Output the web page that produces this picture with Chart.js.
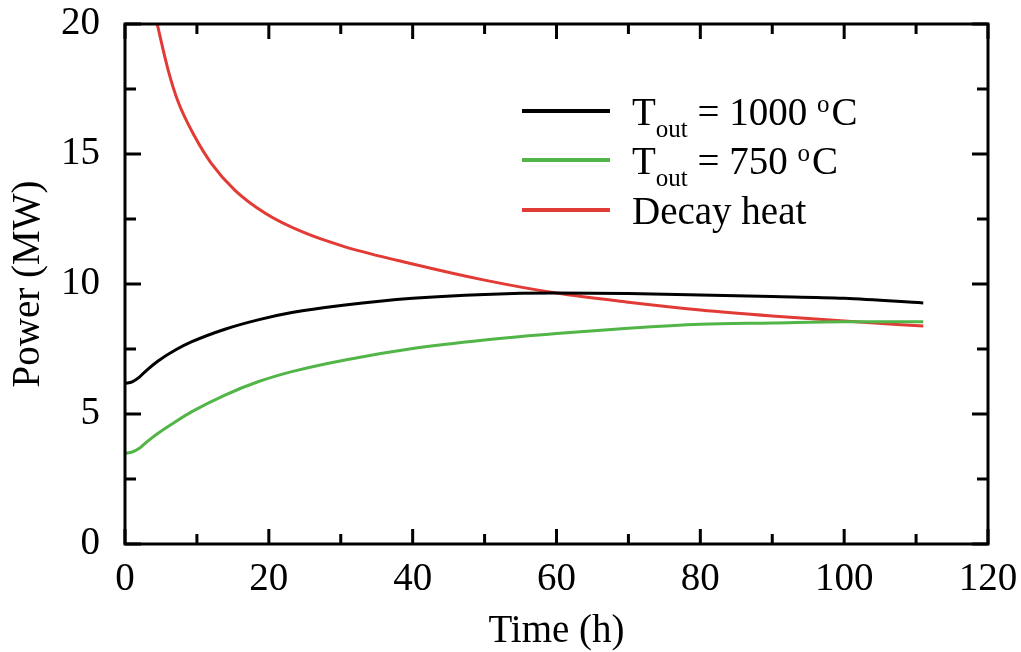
<!DOCTYPE html>
<html><head><meta charset="utf-8">
<script src="https://cdn.jsdelivr.net/npm/chart.js@4.4.0/dist/chart.umd.min.js"></script>
<style>html,body{margin:0;padding:0;background:#fff;}canvas{display:block;}</style>
</head><body>
<canvas id="c" width="1021" height="652"></canvas>
<script>
// ---- data ----
const timeT      = [0, 1, 2, 3, 4.6, 7, 9.3, 13.9, 18.5, 23.2, 30.6, 40, 50, 60, 70, 80, 90, 100, 111];
const power1000  = [6.18, 6.24, 6.42, 6.68, 7.04, 7.46, 7.78, 8.26, 8.62, 8.9, 9.19, 9.45, 9.6, 9.65, 9.63, 9.58, 9.52, 9.45, 9.27];
const power750   = [3.49, 3.54, 3.68, 3.92, 4.26, 4.7, 5.09, 5.73, 6.24, 6.63, 7.08, 7.52, 7.85, 8.1, 8.3, 8.45, 8.5, 8.55, 8.55];
const timeDecay  = [2, 3, 4.4, 6, 7.4, 9.7, 12, 15.3, 19.5, 24.6, 30.6, 40, 50, 60, 70, 80, 90, 100, 111];
const decayHeat  = [23.5, 21.9, 20.1, 18.23, 17.0, 15.67, 14.64, 13.6, 12.72, 12.01, 11.43, 10.77, 10.15, 9.65, 9.3, 9.0, 8.77, 8.58, 8.38];
const seriesNames = ['T_out = 1000 °C', 'T_out = 750 °C', 'Decay heat'];
const legendParts = [
  [['T',''],['out','sub'],[' = 1000 ',''],['o','sup'],['C','']],
  [['T',''],['out','sub'],[' = 750 ',''],['o','sup'],['C','']],
  [['Decay heat','']]
];
const xMajorStep = 20, xMinorStep = 10, yMajorStep = 5, yMinorStep = 2.5;
const xTitle = 'Time (h)';
const yTitle = 'Power (MW)';

const colors = ['#000000', '#52b548', '#e23b36'];
const FONT = '"Liberation Serif", "Times New Roman", serif';

function pts(xs, ys){ return xs.map((x,i)=>({x:x, y:ys[i]})); }

const framePlugin = {
  id: 'frame',
  afterDraw(chart){
    const {ctx, chartArea:a, scales:{x, y}} = chart;
    ctx.save();
    ctx.strokeStyle = '#000';
    ctx.lineWidth = 3;
    ctx.lineCap = 'butt';
    for (let v = x.min; v <= x.max + 1e-9; v += xMinorStep) {
      const px = x.getPixelForValue(v);
      const len = (Math.abs(v % xMajorStep) < 1e-9) ? 15 : 10;
      ctx.beginPath();
      ctx.moveTo(px, a.bottom); ctx.lineTo(px, a.bottom - len);
      ctx.moveTo(px, a.top); ctx.lineTo(px, a.top + len);
      ctx.stroke();
    }
    for (let v = y.min; v <= y.max + 1e-9; v += yMinorStep) {
      const py = y.getPixelForValue(v);
      const len = (Math.abs(v % yMajorStep) < 1e-9) ? 16 : 11;
      ctx.beginPath();
      ctx.moveTo(a.left, py); ctx.lineTo(a.left + len, py);
      ctx.moveTo(a.right, py); ctx.lineTo(a.right - len, py);
      ctx.stroke();
    }
    ctx.strokeRect(a.left, a.top, a.right - a.left, a.bottom - a.top);

    // legend
    const lx0 = 522, lx1 = 610, tx = 632, rowY = [111, 160, 210];
    legendParts.forEach((parts, i) => {
      ctx.strokeStyle = colors[i];
      ctx.lineWidth = 4;
      ctx.beginPath(); ctx.moveTo(lx0, rowY[i]); ctx.lineTo(lx1, rowY[i]); ctx.stroke();
      let cx = tx;
      const base = rowY[i] + 14;
      ctx.fillStyle = '#000';
      ctx.textBaseline = 'alphabetic';
      ctx.textAlign = 'left';
      parts.forEach(([t, mode]) => {
        let size = 39, yy = base;
        if (mode === 'sub') { size = 25; yy = base + 12; }
        if (mode === 'sup') { size = 25; yy = base - 13; }
        ctx.font = size + 'px ' + FONT;
        ctx.fillText(t, cx, yy);
        cx += ctx.measureText(t).width;
        if (mode === 'sup') cx += 2;
      });
    });
    ctx.restore();
  }
};

const hiddenGrid = (len) => ({display: true, drawOnChartArea: false, drawTicks: true, tickLength: len, tickColor: 'rgba(0,0,0,0)'});

new Chart(document.getElementById('c'), {
  type: 'scatter',
  data: {
    datasets: [
      {label: seriesNames[0], data: pts(timeT, power1000), borderColor: colors[0]},
      {label: seriesNames[1], data: pts(timeT, power750), borderColor: colors[1]},
      {label: seriesNames[2], data: pts(timeDecay, decayHeat), borderColor: colors[2]}
    ].map(d => Object.assign(d, {showLine: true, borderWidth: 3, pointRadius: 0, cubicInterpolationMode: 'monotone', fill: false}))
  },
  options: {
    responsive: false,
    animation: false,
    layout: {padding: {top: 24, right: 33, left: 0, bottom: 0}},
    plugins: {legend: {display: false}, tooltip: {enabled: false}},
    scales: {
      x: {
        type: 'linear', min: 0, max: 120,
        grid: hiddenGrid(12), border: {display: false},
        ticks: {stepSize: xMajorStep, color: '#000', padding: 0, font: {family: FONT, size: 39}, maxRotation: 0},
        title: {display: true, text: xTitle, color: '#000', font: {family: FONT, size: 39}, padding: {top: 0, bottom: -3}},
        afterFit(s){ s.height = 108; }
      },
      y: {
        type: 'linear', min: 0, max: 20,
        grid: hiddenGrid(25), border: {display: false},
        ticks: {stepSize: yMajorStep, color: '#000', padding: 0, font: {family: FONT, size: 39}},
        title: {display: true, text: yTitle, color: '#000', font: {family: FONT, size: 39}, padding: {top: 5, bottom: 0}},
        afterFit(s){ s.width = 125; }
      }
    }
  },
  plugins: [framePlugin]
});
</script>
</body></html>
